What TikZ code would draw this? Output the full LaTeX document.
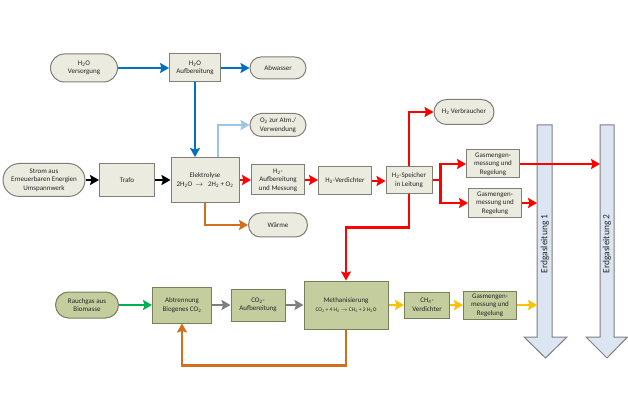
\documentclass[tikz,border=0pt]{standalone}
\usepackage{fontspec}
\setmainfont{Carlito}
\usetikzlibrary{arrows.meta,shapes.misc,calc}

\definecolor{topfill}{HTML}{EBEBDF}
\definecolor{topdraw}{HTML}{7F7F78}
\definecolor{botfill}{HTML}{C4CD9E}
\definecolor{botdraw}{HTML}{76815A}
\definecolor{cblue}{HTML}{0070C0}
\definecolor{clblue}{HTML}{9DC3E6}
\definecolor{cred}{HTML}{FF0000}
\definecolor{corange}{HTML}{D0701C}
\definecolor{cgreen}{HTML}{00B050}
\definecolor{cgray}{HTML}{7F7F7F}
\definecolor{cyellow}{HTML}{FFC000}
\definecolor{pipefill}{HTML}{DCE6F2}
\definecolor{pipedraw}{HTML}{7F7F7F}

\tikzset{
 base/.style={draw, line width=1pt, inner sep=1pt, align=center,
   font=\fontsize{7}{8.5}\selectfont, text=black!85},
 box/.style={base, rectangle, fill=topfill, draw=topdraw},
 pill/.style={base, rounded rectangle, fill=topfill, draw=topdraw},
 gbox/.style={base, rectangle, fill=botfill, draw=botdraw},
 gpill/.style={base, rounded rectangle, fill=botfill, draw=botdraw},
 flow/.style={line width=2.6pt, -{Stealth[length=9pt,width=10pt,inset=1.5pt]}},
 sz/.style 2 args={minimum width=#1pt, minimum height=#2pt},
 pipe/.style={fill=pipefill, draw=pipedraw, line width=1pt, line join=miter},
 pipelabel/.style={rotate=90, font=\fontsize{9.5}{11}\selectfont, text=black!85},
}

\begin{document}
\begin{tikzpicture}[x=1pt,y=-1pt]
\useasboundingbox (0,0) rectangle (628,419);

% pipes
\draw[pipe] (537,125) -- (552,125) -- (552,337) -- (567,337) -- (545.5,358) -- (524,337) -- (537,337) -- cycle;
\draw[pipe] (600,125) -- (614,125) -- (614,337) -- (627.5,337) -- (607,358) -- (586,337) -- (600,337) -- cycle;
\node[pipelabel] (eg1) at (545,244) {Erdgasleitung 1};
\node[pipelabel] (eg2) at (607,244) {Erdgasleitung 2};
\coordinate (eg1w) at (537,0);
\coordinate (eg2w) at (600,0);

% top row
\node[pill, sz={69}{28}] (h2ov) at (84,68) {H\textsubscript{2}O\\Versorgung};
\node[box, sz={51}{28}] (h2oa) at (195,68) {H\textsubscript{2}O\\Aufbereitung};
\node[pill, sz={58}{22}] (abw) at (278,68) {Abwasser};
\node[pill, sz={58}{23}] (o2) at (278,125) {O\textsubscript{2} zur Atm./\\Verwendung};
\node[pill, sz={84}{33}] (strom) at (44,180) {Strom aus\\Erneuerbaren Energien\\Umspannwerk};
\node[box, sz={55}{33}] (trafo) at (127,180) {Trafo};
\node[box, sz={68}{45}] (elek) at (205,180) {Elektrolyse\\2H\textsubscript{2}O~~$\rightarrow$~~~2H\textsubscript{2} + O\textsubscript{2}};
\node[box, sz={53}{30}] (h2aufb) at (278,180) {H\textsubscript{2}-\\Aufbereitung\\und Messung};
\node[pill, sz={61}{24}] (waerme) at (278,225) {Wärme};
\node[box, sz={53}{28}] (h2v) at (345,181) {H\textsubscript{2}-Verdichter};
\node[box, sz={46}{27}] (spei) at (409,180) {H\textsubscript{2}-Speicher\\in Leitung};
\node[pill, sz={62}{25}] (verb) at (464,112) {H\textsubscript{2} Verbraucher};
\node[box, sz={53}{28}] (gm1) at (493,164) {Gasmengen-\\messung und\\Regelung};
\node[box, sz={53}{29}] (gm2) at (495,203) {Gasmengen-\\messung und\\Regelung};

% bottom row
\node[gpill, sz={65}{26}] (rauch) at (87,305) {Rauchgas aus\\Biomasse};
\node[gbox, sz={59}{36}] (abtr) at (182,305) {Abtrennung\\Biogenes CO\textsubscript{2}};
\node[gbox, sz={54}{32}] (co2a) at (258,305) {CO\textsubscript{2}-\\Aufbereitung};
\node[gbox, sz={84}{48}] (meth) at (346,305) {Methanisierung\\[1pt]{\fontsize{5.5}{7}\selectfont CO\textsubscript{2} + 4 H\textsubscript{2} $\rightarrow$ CH\textsubscript{4} + 2 H\textsubscript{2}O}};
\node[gbox, sz={45}{26}] (ch4v) at (427,305) {CH\textsubscript{4}-\\Verdichter};
\node[gbox, sz={53}{28}] (gm3) at (490,305) {Gasmengen-\\messung und\\Regelung};

% connectors
\draw[flow,cblue] (h2ov.east) -- (h2oa.west);
\draw[flow,cblue] (h2oa.east) -- (abw.west);
\draw[flow,cblue] (h2oa.south) -- (h2oa.south |- elek.north);
\draw[flow,clblue] ([xshift=13pt]elek.north) |- (o2.west);
\draw[flow,black] (strom.east) -- (trafo.west);
\draw[flow,black] (trafo.east) -- (elek.west);
\draw[flow,cred] (elek.east) -- (h2aufb.west);
\draw[flow,cred] (h2aufb.east) -- (h2v.west |- h2aufb.east);
\draw[flow,cred] (h2v.east) -- (spei.west |- h2v.east);
\draw[flow,corange] (elek.south) |- (waerme.west);
\draw[flow,cred] (spei.north) |- (verb.west);
\coordinate (jn) at ($(spei.east)+(8,0)$);
\draw[flow,cred] (spei.east) -- (jn) |- (gm1.west);
\draw[flow,cred] (spei.east) -- (jn) |- (gm2.west);
\draw[flow,cred] (spei.south) -- ++(0,33.5) -| (meth.north);
\draw[flow,cred] (gm1.east) -- (gm1.east -| eg2w);
\draw[flow,cred] (gm2.east) -- (gm2.east -| eg1w);

\draw[flow,cgreen] (rauch.east) -- (abtr.west);
\draw[flow,cgray] (abtr.east) -- (co2a.west);
\draw[flow,cgray] (co2a.east) -- (meth.west);
\draw[flow,cyellow] (meth.east) -- (ch4v.west);
\draw[flow,cyellow] (ch4v.east) -- (gm3.west);
\draw[flow,cyellow] (gm3.east) -- (gm3.east -| eg1w);
\draw[flow,corange] (meth.south) -- ++(0,36) -| (abtr.south);
\end{tikzpicture}
\end{document}
